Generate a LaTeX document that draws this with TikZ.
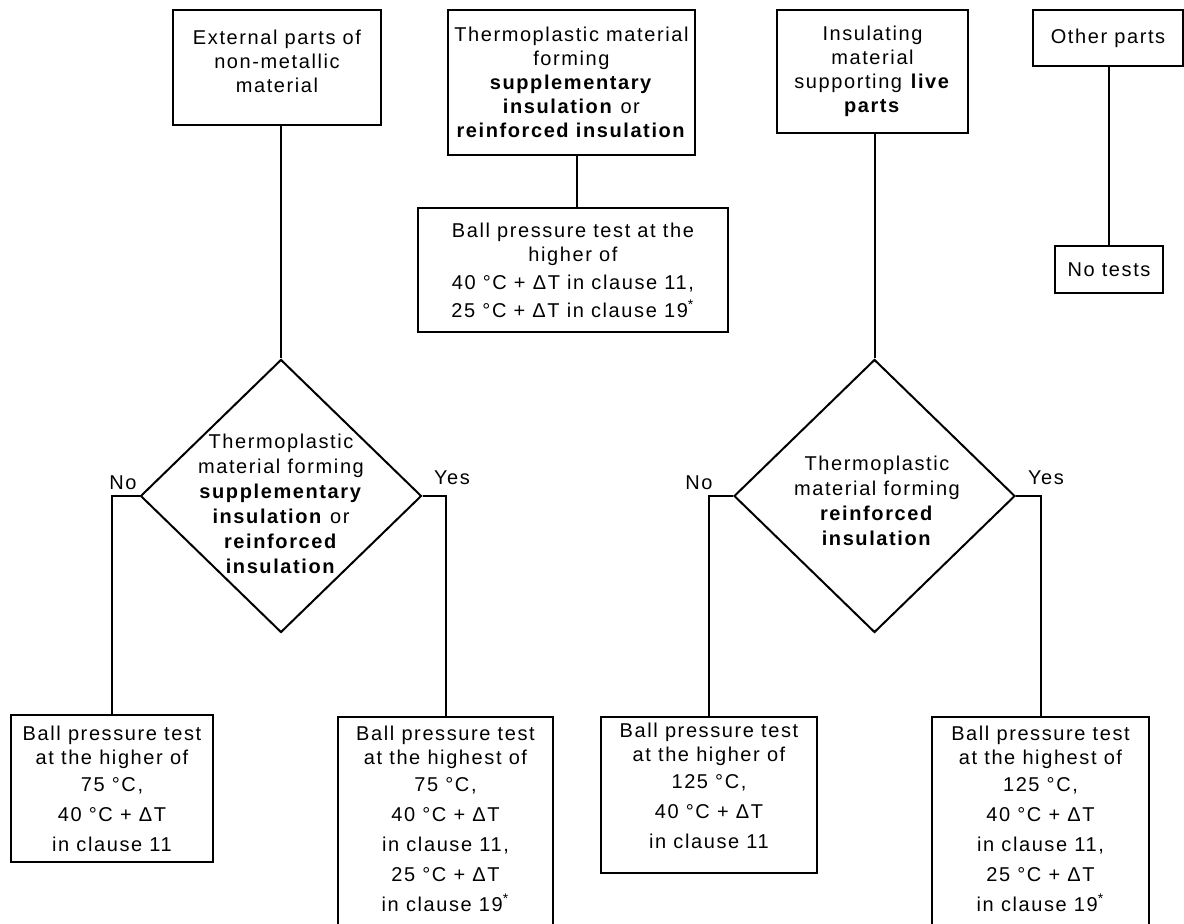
\documentclass[tikz,border=0pt]{standalone}
\usepackage{fontspec}
\setmainfont{Liberation Sans}[LetterSpace=8]
\usetikzlibrary{shapes.geometric,positioning}

\begin{document}
\begin{tikzpicture}[x=0.5pt,y=-0.5pt]
      \tikzstyle{box}=[draw,line width=1pt,align=center,inner sep=0pt,font=\fontsize{10}{12}\selectfont]
      \tikzstyle{decision}=[diamond,draw,line width=1pt,inner sep=0pt,minimum width=140.5pt,minimum height=136.5pt]
      \tikzstyle{dtext}=[align=center,font=\fontsize{10}{12.5}\selectfont]
      \tikzstyle{lbl}=[inner sep=0pt,font=\fontsize{10}{12}\selectfont]
      \tikzstyle{link}=[line width=1pt]
      % Page size
      \useasboundingbox (0,0) rectangle (1184,924);
      % Top boxes
      \node (external) at (277,67.5) [box,minimum width=104pt,minimum height=57.5pt]
        {External parts of\\non-metallic\\material\\[-6pt]{}};
      \node (thermo) at (571.4,82.5) [box,minimum width=123.6pt,minimum height=72.5pt]
        {Thermoplastic material\\forming\\\textbf{supplementary}\\\textbf{insulation} or\\\textbf{reinforced insulation}};
      \node (bpthigher) at (572.9,270) [box,minimum width=155pt,minimum height=62pt]
        {Ball pressure test at the\\higher of\\[2pt]40 °C + ΔT in clause 11,\\[2pt]25 °C + ΔT in clause 19\textsuperscript{*}};
      \node (insulating) at (872.5,71.5) [box,minimum width=95.5pt,minimum height=61.5pt]
        {Insulating\\material\\supporting \textbf{live}\\\textbf{parts}};
      \node (other) at (1108,38) [box,minimum width=75pt,minimum height=28pt] {Other parts};
      \node (notests) at (1109,269.5) [box,minimum width=54pt,minimum height=23.5pt] {No tests};
      % Decisions
      \node (dec1) at (281,496) [decision] {};
      \node (dec1txt) at (281,504) [dtext]
        {Thermoplastic\\material forming\\\textbf{supplementary}\\\textbf{insulation} or\\\textbf{reinforced}\\\textbf{insulation}};
      \node (dec2) at (874.5,496) [decision] {};
      \node (dec2txt) at (877,501) [dtext]
        {Thermoplastic\\material forming\\\textbf{reinforced}\\\textbf{insulation}};
      % Bottom boxes
      \node (low75) at (112,788.5) [box,minimum width=101pt,minimum height=73.5pt]
        {Ball pressure test\\at the higher of\\[1.5pt]75 °C,\\[3pt]40 °C + ΔT\\[3pt]in clause 11};
      \node (high75) at (445.5,822.5) [box,minimum width=107.5pt,minimum height=105.5pt]
        {Ball pressure test\\at the highest of\\[1.5pt]75 °C,\\[3pt]40 °C + ΔT\\[3pt]in clause 11,\\[3pt]25 °C + ΔT\\[3pt]in clause 19\textsuperscript{*}\\[-8pt]{}};
      \node (low125) at (709,795) [box,minimum width=108pt,minimum height=78pt]
        {Ball pressure test\\at the higher of\\[1.5pt]125 °C,\\[3pt]40 °C + ΔT\\[3pt]in clause 11\\[-3pt]{}};
      \node (high125) at (1040.5,822.5) [box,minimum width=108.5pt,minimum height=105.5pt]
        {Ball pressure test\\at the highest of\\[1.5pt]125 °C,\\[3pt]40 °C + ΔT\\[3pt]in clause 11,\\[3pt]25 °C + ΔT\\[3pt]in clause 19\textsuperscript{*}\\[-8pt]{}};
      % Vertical links
      \draw [link] (dec1.north |- external.south) -- (dec1.north);
      \draw [link] ([xshift=2.6pt]thermo.south) -- ([xshift=2.6pt]thermo.south |- bpthigher.north);
      \draw [link] (dec2.north |- insulating.south) -- (dec2.north);
      \draw [link] (notests.north |- other.south) -- (notests.north);
      % No / Yes branches
      \draw [link] (dec1.west) -| (low75.north);
      \draw [link] (dec1.east) -| (high75.north);
      \draw [link] (dec2.west) -| (low125.north);
      \draw [link] (dec2.east) -| (high125.north);
      \node (no1) at (123,483) [lbl] {No};
      \node (yes1) at (452,478) [lbl] {Yes};
      \node (no2) at (699,483) [lbl] {No};
      \node (yes2) at (1046,478) [lbl] {Yes};
    \end{tikzpicture}
\end{document}
